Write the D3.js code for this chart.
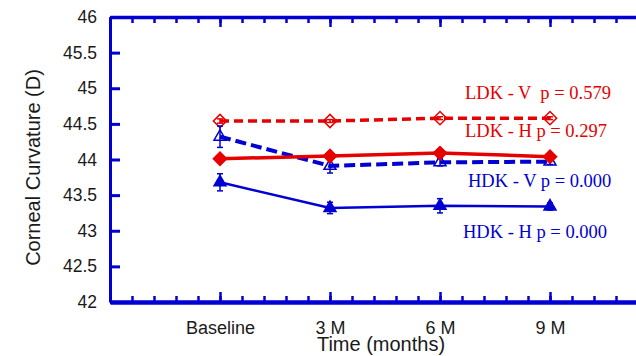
<!DOCTYPE html>
<html>
<head>
<meta charset="utf-8">
<script src="https://cdn.jsdelivr.net/npm/d3@7"></script>
<style>
  body { margin: 0; background: #fff; }
  svg { display: block; }
</style>
</head>
<body>
<div id="chart"></div>
<script>
// chart values
const timepoints = ["Baseline", "3 M", "6 M", "9 M"];
const ldkV = [44.54, 44.54, 44.58, 44.58];
const ldkH = [44.01, 44.05, 44.09, 44.04];
const hdkV = [44.32, 43.91, 43.96, 43.97];
const hdkH = [43.68, 43.32, 43.35, 43.34];
const ldkVErr = [0.03, 0.02, 0.02, 0.02];
const ldkHErr = [0.03, 0.03, 0.03, 0.03];
const hdkVErr = [0.15, 0.10, 0.05, 0.04];
const hdkHErr = [0.12, 0.08, 0.10, 0.05];
const yTicks = [42, 42.5, 43, 43.5, 44, 44.5, 45, 45.5, 46];
const seriesLabels = ["LDK - V  p = 0.579", "LDK - H p = 0.297", "HDK - V p = 0.000", "HDK - H p = 0.000"];

const W = 636, H = 356;
const blue = "#0000d2", red = "#e60000";

const svg = d3.select("#chart").append("svg")
    .attr("width", W)
    .attr("height", H);

// x: index 0 is the left axis, categories sit at 1..4
const x = d3.scaleLinear().domain([0, 5]).range([110, 660]);
const y = d3.scaleLinear().domain([42, 46]).range([302, 17]);

const minorTicks = d3.range(0, 5.01, 0.2);
const majorTicks = [1, 2, 3, 4];

// bottom axis - minor ticks then labelled major ticks
svg.append("g")
    .attr("transform", `translate(0,${y(42)})`)
    .call(d3.axisBottom(x).tickValues(minorTicks).tickSizeInner(-6).tickSizeOuter(0).tickFormat(""))
    .call(g => g.select(".domain").remove())
    .selectAll("line").attr("stroke", blue).attr("stroke-width", 2.5);

svg.append("g")
    .attr("transform", `translate(0,${y(42)})`)
    .call(d3.axisBottom(x).tickValues(majorTicks).tickSizeInner(-10).tickSizeOuter(0).tickPadding(19)
        .tickFormat(d => timepoints[d - 1]))
    .call(g => g.select(".domain").attr("stroke", blue).attr("stroke-width", 4.5))
    .call(g => g.selectAll("line").attr("stroke", blue).attr("stroke-width", 2.5))
    .selectAll("text")
    .attr("fill", "#1a1a1a")
    .style("font-family", "'Liberation Sans', Arial, sans-serif")
    .style("font-size", "18px");

// top axis
svg.append("g")
    .attr("transform", `translate(0,${y(46)})`)
    .call(d3.axisTop(x).tickValues(minorTicks).tickSizeInner(-6).tickSizeOuter(0).tickFormat(""))
    .call(g => g.select(".domain").remove())
    .selectAll("line").attr("stroke", blue).attr("stroke-width", 2.5);

svg.append("g")
    .attr("transform", `translate(0,${y(46)})`)
    .call(d3.axisTop(x).tickValues(majorTicks).tickSizeInner(-10).tickSizeOuter(0).tickFormat(""))
    .call(g => g.select(".domain").attr("stroke", blue).attr("stroke-width", 3.5))
    .selectAll("line").attr("stroke", blue).attr("stroke-width", 2.5);

// left axis
svg.append("g")
    .attr("transform", `translate(${x(0)},0)`)
    .call(d3.axisLeft(y).tickValues(yTicks).tickSizeInner(-10).tickSizeOuter(0).tickPadding(13)
        .tickFormat(d => d))
    .call(g => g.select(".domain").attr("stroke", blue).attr("stroke-width", 3))
    .call(g => g.selectAll("line").attr("stroke", blue).attr("stroke-width", 3))
    .selectAll("text")
    .attr("fill", "#1a1a1a")
    .style("font-family", "'Liberation Sans', Arial, sans-serif")
    .style("font-size", "17.5px");

// axis titles
svg.append("text")
    .attr("transform", `translate(40,${(y(46) + y(42)) / 2 + 8}) rotate(-90)`)
    .attr("text-anchor", "middle")
    .attr("fill", "#1a1a1a")
    .style("font-family", "'Liberation Sans', Arial, sans-serif")
    .style("font-size", "20px")
    .text("Corneal Curvature (D)");

svg.append("text")
    .attr("x", 381)
    .attr("y", 351)
    .attr("text-anchor", "middle")
    .attr("fill", "#1a1a1a")
    .style("font-family", "'Liberation Sans', Arial, sans-serif")
    .style("font-size", "20px")
    .text("Time (months)");

// series
const diamond = d3.symbol().type(d3.symbolSquare).size(88)();
const triangle = d3.symbol().type(d3.symbolTriangle).size(62)();

const series = [
    { vals: ldkV, err: ldkVErr, color: red, dash: "9,5", width: 3.5, shape: diamond, rot: 45, fill: "#fff" },
    { vals: hdkV, err: hdkVErr, color: blue, dash: "11,5", width: 4, shape: triangle, rot: 0, fill: "#fff" },
    { vals: ldkH, err: ldkHErr, color: red, dash: null, width: 3.5, shape: diamond, rot: 45, fill: red },
    { vals: hdkH, err: hdkHErr, color: blue, dash: null, width: 2.5, shape: triangle, rot: 0, fill: blue }
];

const line = d3.line()
    .x((d, i) => x(i + 1))
    .y(d => y(d));

series.forEach(s => {
    svg.append("path")
        .datum(s.vals)
        .attr("fill", "none")
        .attr("stroke", s.color)
        .attr("stroke-width", s.width)
        .attr("stroke-dasharray", s.dash)
        .attr("d", line);

    const pts = s.vals.map((v, i) => ({ i: i, v: v, e: s.err[i] }));

    // error bars
    const eb = svg.append("g").attr("stroke", s.color).attr("stroke-width", 1.5);
    eb.selectAll(".ev").data(pts).enter().append("line")
        .attr("x1", d => x(d.i + 1)).attr("x2", d => x(d.i + 1))
        .attr("y1", d => y(d.v - d.e)).attr("y2", d => y(d.v + d.e));
    eb.selectAll(".ct").data(pts).enter().append("line")
        .attr("x1", d => x(d.i + 1) - 3).attr("x2", d => x(d.i + 1) + 3)
        .attr("y1", d => y(d.v + d.e)).attr("y2", d => y(d.v + d.e));
    eb.selectAll(".cb").data(pts).enter().append("line")
        .attr("x1", d => x(d.i + 1) - 3).attr("x2", d => x(d.i + 1) + 3)
        .attr("y1", d => y(d.v - d.e)).attr("y2", d => y(d.v - d.e));

    svg.selectAll(null).data(pts).enter().append("path")
        .attr("d", s.shape)
        .attr("transform", d => `translate(${x(d.i + 1)},${y(d.v)}) rotate(${s.rot})`)
        .attr("fill", s.fill)
        .attr("fill-opacity", s.fill === "#fff" ? 0 : 1)
        .attr("stroke", s.color)
        .attr("stroke-width", 1.5);
});

// p-value annotations
const labelPos = [[465, 99], [465, 137], [468, 187], [463, 238]];
const labelColors = [red, red, blue, blue];
svg.selectAll(".plab").data(seriesLabels).enter().append("text")
    .attr("class", "plab")
    .attr("x", (d, i) => labelPos[i][0])
    .attr("y", (d, i) => labelPos[i][1])
    .attr("fill", (d, i) => labelColors[i])
    .style("font-family", "'Liberation Serif', 'Times New Roman', serif")
    .style("font-size", "18.5px")
    .style("white-space", "pre")
    .text(d => d);
</script>
</body>
</html>
